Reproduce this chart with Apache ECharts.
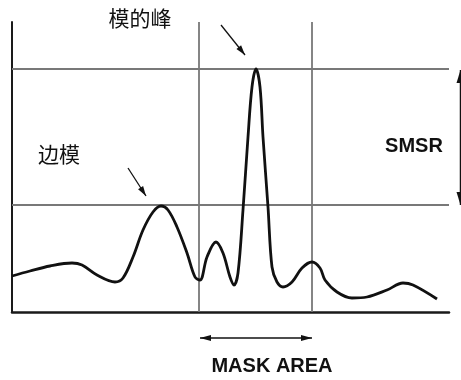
<!DOCTYPE html>
<html><head><meta charset="utf-8">
<script src="https://cdn.jsdelivr.net/npm/echarts@6/dist/echarts.min.js"></script>
<style>html,body{margin:0;padding:0;background:#fff;}#c{width:461px;height:380px;}</style>
</head><body><div id="c"></div>
<script>
// Spectrum trace (arbitrary units)
var xs = [0,18,38,60,70,85,103,111,121,131,141,149,156,165,175,183,188,195,204,211,218,222,226,231,236,240,244,248,251,256,260,265,271,280,290,300,308,313,325,340,355,375,391,401,425];
var ys = [36,41,46,49,47,37,30,34,55,82,100,106,102,85,59,35,32,55,70,59,35,27,39,102,175,225,243,225,175,105,45,30,25,30,44,50,44,32,20,14,15,22,29,27,13];
// Reference lines: mask area edges and peak levels
var maskEdges = [187, 300];
var levels = [107, 243];       // side-mode level, main-mode level
var xMax = 437, yMax = 290;
var labels = {main: '模的峰', side: '边模', smsr: 'SMSR', mask: 'MASK AREA'};

var pts = xs.map(function(x,i){return [x, ys[i]];});
var chart = echarts.init(document.getElementById('c'));
var gridLine = {color:'#787878', width:1.8, type:'solid'};
var ml = [];
maskEdges.forEach(function(v){ ml.push({xAxis:v, lineStyle:gridLine}); });
levels.forEach(function(v){ ml.push({yAxis:v, lineStyle:gridLine}); });

chart.setOption({
  animation:false,
  grid:{left:12, right:12, top:22, bottom:68},
  xAxis:{type:'value', min:0, max:xMax, axisLine:{show:true, lineStyle:{color:'#1a1a1a', width:2.5}},
    axisTick:{show:false}, axisLabel:{show:false}, splitLine:{show:false}},
  yAxis:{type:'value', min:0, max:yMax, axisLine:{show:true, lineStyle:{color:'#1a1a1a', width:2}},
    axisTick:{show:false}, axisLabel:{show:false}, splitLine:{show:false}},
  series:[{
    type:'line', data:pts, smooth:0.35, showSymbol:false, z:5,
    lineStyle:{color:'#111', width:2.8},
    markLine:{silent:true, symbol:['none','none'], label:{show:false}, data:ml, z:1}
  }]
});

function px(x,y){ return chart.convertToPixel({gridIndex:0}, [x,y]); }
function arrow(x1,y1,x2,y2,both,len,wid,lw){
  var els=[];
  els.push({type:'line', shape:{x1:x1,y1:y1,x2:x2,y2:y2}, style:{stroke:'#111', lineWidth:lw}, z:20});
  function head(ax,ay,bx,by){
    var dx=bx-ax, dy=by-ay, d=Math.sqrt(dx*dx+dy*dy); dx/=d; dy/=d;
    var baseX=bx-dx*len, baseY=by-dy*len;
    els.push({type:'polygon', shape:{points:[[bx,by],[baseX-dy*wid/2, baseY+dx*wid/2],[baseX+dy*wid/2, baseY-dx*wid/2]]}, style:{fill:'#111'}, z:21});
  }
  head(x1,y1,x2,y2);
  if(both) head(x2,y2,x1,y1);
  return els;
}
var g=[];
// main-peak pointer
var a1=px(209,287), a2=px(233,257);
g=g.concat(arrow(a1[0],a1[1],a2[0],a2[1],false,10,6,1.3));
// side-mode pointer
var b1=px(116,144), b2=px(134,116);
g=g.concat(arrow(b1[0],b1[1],b2[0],b2[1],false,10,6,1.3));
// mask area arrow
var m1=px(maskEdges[0],0), m2=px(maskEdges[1],0);
g=g.concat(arrow(m1[0]+1, m1[1]+26, m2[0], m2[1]+26, true, 11, 6, 1.5));
// SMSR arrow at right edge
var s1=px(xMax,levels[1]), s2=px(xMax,levels[0]);
g=g.concat(arrow(s1[0]+11.5, s1[1]+1, s1[0]+11.5, s2[1], true, 13, 8, 1.5));
var cjk='"Noto Sans CJK SC", "Noto Sans", sans-serif';
var lat='"Liberation Sans", Arial, sans-serif';
g.push({type:'text', x:140, y:18, style:{text:labels.main, font:'21px '+cjk, fill:'#111', align:'center', verticalAlign:'middle'}, z:30});
g.push({type:'text', x:59, y:154, style:{text:labels.side, font:'21px '+cjk, fill:'#111', align:'center', verticalAlign:'middle'}, z:30});
g.push({type:'text', x:414, y:146, style:{text:labels.smsr, font:'bold 20px '+lat, fill:'#111', align:'center', verticalAlign:'middle'}, z:30});
g.push({type:'text', x:272, y:366, style:{text:labels.mask, font:'bold 20px '+lat, fill:'#111', align:'center', verticalAlign:'middle'}, z:30});
chart.setOption({graphic:{elements:g}});
</script></body></html>
